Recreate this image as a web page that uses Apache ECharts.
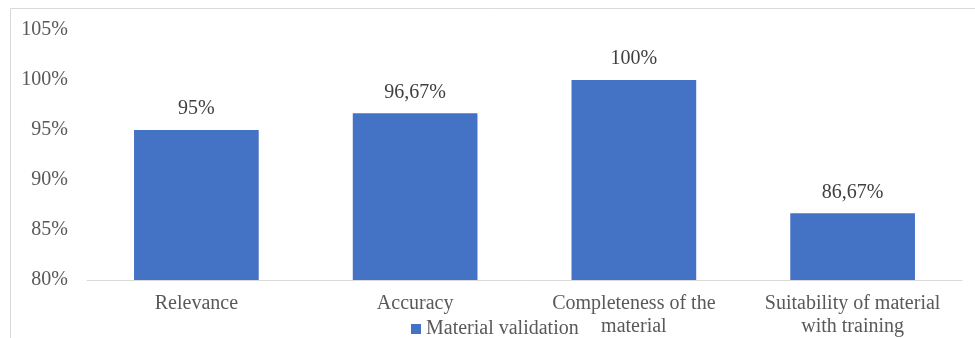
<!DOCTYPE html>
<html>
<head>
<meta charset="utf-8">
<script src="https://cdn.jsdelivr.net/npm/echarts@6/dist/echarts.min.js"></script>
<style>
  html, body { margin: 0; padding: 0; background: #fff; }
  #chart { width: 975px; height: 338px; }
</style>
</head>
<body>
<div id="chart"></div>
<script>
// Validation scores per criterion (percent)
const categories = ['Relevance', 'Accuracy', 'Completeness of the\nmaterial', 'Suitability of material\nwith training'];
const seriesName = 'Material validation';
const values = [95, 96.67, 100, 86.67];
const yTicks = [80, 85, 90, 95, 100, 105];

const serif = '"Liberation Serif", "DejaVu Serif", serif';
const chart = echarts.init(document.getElementById('chart'), null, { renderer: 'canvas' });

chart.setOption({
  animation: false,
  backgroundColor: '#fff',
  graphic: [{
    type: 'rect',
    shape: { x: 10.5, y: 8.5, width: 980, height: 400 },
    style: { fill: 'none', stroke: '#d9d9d9', lineWidth: 1 },
    silent: true
  }],
  grid: { left: 87, right: 13, top: 30, bottom: 58, containLabel: false },
  legend: {
    data: [seriesName],
    left: 406, top: 314,
    itemWidth: 10, itemHeight: 10, itemGap: 4,
    icon: 'rect',
    textStyle: { fontFamily: serif, fontSize: 20, color: '#595959' }
  },
  xAxis: {
    type: 'category',
    data: categories,
    axisLine: { lineStyle: { color: '#d9d9d9', width: 1 } },
    axisTick: { show: false },
    axisLabel: { fontFamily: serif, fontSize: 20, color: '#595959', margin: 12, lineHeight: 23, interval: 0 }
  },
  yAxis: {
    type: 'value',
    min: yTicks[0], max: yTicks[yTicks.length - 1], interval: 5,
    splitLine: { show: false },
    axisLine: { show: false },
    axisTick: { show: false },
    axisLabel: { fontFamily: serif, fontSize: 20, color: '#595959', margin: 19, formatter: v => v + '%' }
  },
  series: [{
    name: seriesName,
    type: 'bar',
    data: values,
    barWidth: '57%',
    itemStyle: { color: '#4472C4' },
    label: {
      show: true, position: 'top', distance: 11,
      fontFamily: serif, fontSize: 20, color: '#404040',
      formatter: p => String(p.value).replace('.', ',') + '%'
    }
  }]
});
</script>
</body>
</html>
